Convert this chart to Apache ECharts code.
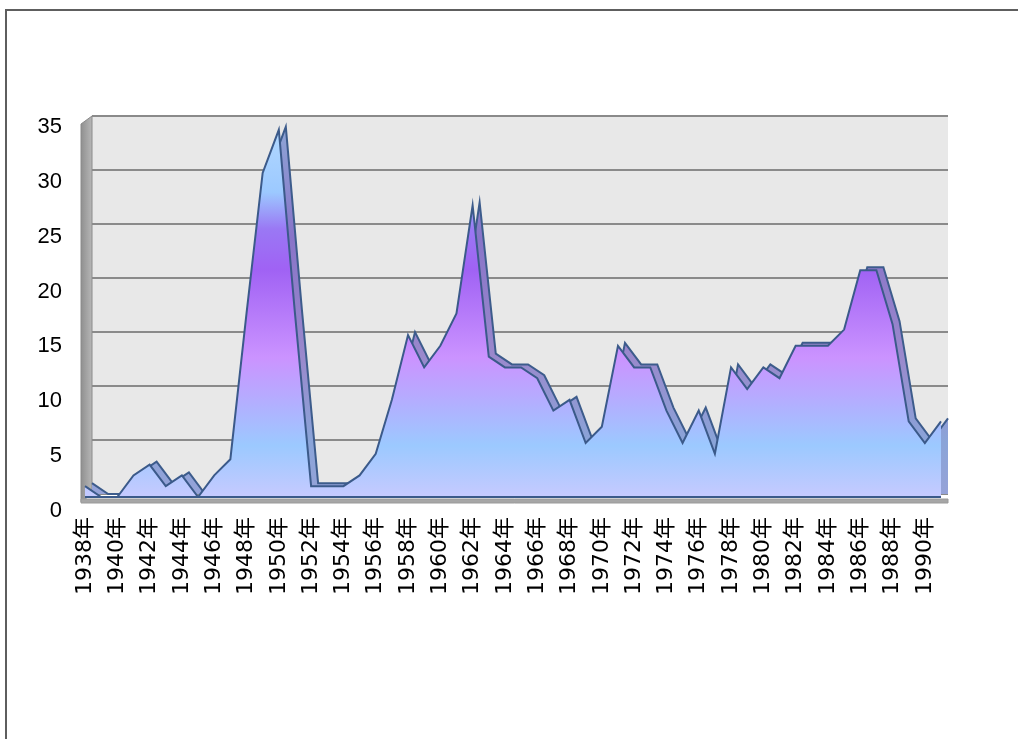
<!DOCTYPE html>
<html>
<head>
<meta charset="utf-8">
<script src="https://cdn.jsdelivr.net/npm/echarts@6/dist/echarts.min.js"></script>
<style>
  html, body { margin: 0; padding: 0; background: #ffffff; }
  #chart { width: 1018px; height: 739px; }
</style>
</head>
<body>
<div id="chart"></div>
<script>
// Yearly values, 1938–1991
const years = [];
for (let y = 1938; y <= 1991; y++) years.push(y + '年');

const values = [
  1, 0, 0, 2, 3, 1, 2, 0, 2, 3.5,      // 1938–1947
  17, 30, 34, 17, 1, 1, 1, 2, 4, 9,    // 1948–1957
  15, 12, 14, 17, 27, 13, 12, 12, 11, 8, // 1958–1967
  9, 5, 6.5, 14, 12, 12, 8, 5, 8, 4,   // 1968–1977
  12, 10, 12, 11, 14, 14, 14, 15.5, 21, 21, // 1978–1987
  16, 7, 5, 7                          // 1988–1991
];

const yTicks = { min: 0, max: 35, interval: 5 };

const chart = echarts.init(document.getElementById('chart'), null, { renderer: 'canvas' });

const labelFont = "'Liberation Sans Narrow', 'Liberation Sans', Arial, sans-serif";
const catFont = "'DejaVu Sans', 'Noto Sans CJK SC', sans-serif";

// front face fill: light blue -> violet -> lilac -> light blue -> lavender
const frontFill = new echarts.graphic.LinearGradient(0, 0, 0, 1, [
  { offset: 0.00, color: '#b2d8ff' },
  { offset: 0.17, color: '#9cc9ff' },
  { offset: 0.27, color: '#9a78f4' },
  { offset: 0.38, color: '#a062f4' },
  { offset: 0.62, color: '#cb93ff' },
  { offset: 0.86, color: '#9cc9ff' },
  { offset: 1.00, color: '#c6caff' }
]);
// top surface of the ribbon (depth band), a muted tone of the same ramp
const bandFill = new echarts.graphic.LinearGradient(0, 0, 0, 1, [
  { offset: 0.00, color: '#8ea6d6' },
  { offset: 0.30, color: '#8874c8' },
  { offset: 0.62, color: '#9a88cc' },
  { offset: 0.86, color: '#8aa4d8' },
  { offset: 1.00, color: '#95a2d8' }
]);

const option = {
  backgroundColor: '#ffffff',
  animation: false,
  graphic: [
    // outer frame
    { type: 'rect', z: 0, silent: true,
      shape: { x: 6, y: 10, width: 1100, height: 800 },
      style: { fill: 'none', stroke: '#5e5e5e', lineWidth: 2 } },
    // left side wall
    { type: 'polygon', z: 0, silent: true,
      shape: { points: [[81, 124], [92, 116], [92, 494], [81, 502]] },
      style: {
        fill: new echarts.graphic.LinearGradient(0, 0, 1, 0, [
          { offset: 0, color: '#8e8e8e' }, { offset: 1, color: '#b8b8b8' }
        ]),
        stroke: '#8a8a8a', lineWidth: 1
      } },
    // floor edge
    { type: 'polygon', z: 0, silent: true,
      shape: { points: [[81, 499], [948, 499], [948, 503], [81, 503]] },
      style: { fill: '#a6a6a6', stroke: '#9a9a9a', lineWidth: 1 } }
  ],
  grid: [
    // back wall
    { left: 92, right: 70, top: 116, bottom: 245, show: true,
      backgroundColor: '#e8e8e8', borderWidth: 0, outerBoundsMode: 'none' },
    // front plane carrying the area
    { left: 85, right: 77, top: 119, bottom: 242, show: false, outerBoundsMode: 'none' },
    // value labels
    { left: 70, right: 77, top: 127, bottom: 228, show: false, outerBoundsMode: 'none' }
  ],
  xAxis: [
    { type: 'category', gridIndex: 0, data: years, boundaryGap: false, show: false },
    { type: 'category', gridIndex: 1, data: years, boundaryGap: false,
      axisLine: { show: false }, axisTick: { show: false }, splitLine: { show: false },
      axisLabel: {
        interval: 1, rotate: 90, margin: 20, color: '#000000',
        fontFamily: catFont, fontSize: 22
      } },
    { type: 'category', gridIndex: 2, data: years, boundaryGap: false, show: false }
  ],
  yAxis: [
    { type: 'value', gridIndex: 0, min: yTicks.min, max: yTicks.max, interval: yTicks.interval,
      axisLine: { show: false }, axisTick: { show: false }, axisLabel: { show: false },
      splitLine: { show: true, lineStyle: { color: '#8a8a8a', width: 2 } } },
    { type: 'value', gridIndex: 1, min: yTicks.min, max: yTicks.max, interval: yTicks.interval,
      show: false, splitLine: { show: false } },
    { type: 'value', gridIndex: 2, min: yTicks.min, max: yTicks.max, interval: yTicks.interval,
      axisLine: { show: false }, axisTick: { show: false }, splitLine: { show: false },
      axisLabel: { margin: 8, color: '#000000', fontFamily: labelFont, fontSize: 22 } }
  ],
  series: [
    { // depth band, set back and to the right
      type: 'line', xAxisIndex: 0, yAxisIndex: 0, data: values,
      symbol: 'none', z: 2, silent: true,
      lineStyle: { color: '#3d5c8c', width: 2, join: 'miter' },
      areaStyle: { color: bandFill, opacity: 1 }
    },
    { // front face
      type: 'line', xAxisIndex: 1, yAxisIndex: 1, data: values,
      symbol: 'none', z: 3, silent: true,
      lineStyle: { color: '#3b5a8a', width: 2, join: 'miter' },
      areaStyle: { color: frontFill, opacity: 1 }
    },
    { // baseline of the front face
      type: 'line', xAxisIndex: 1, yAxisIndex: 1,
      data: values.map(() => 0),
      symbol: 'none', z: 4, silent: true,
      lineStyle: { color: '#3b5a8a', width: 2 }
    }
  ]
};

chart.setOption(option);
</script>
</body>
</html>
